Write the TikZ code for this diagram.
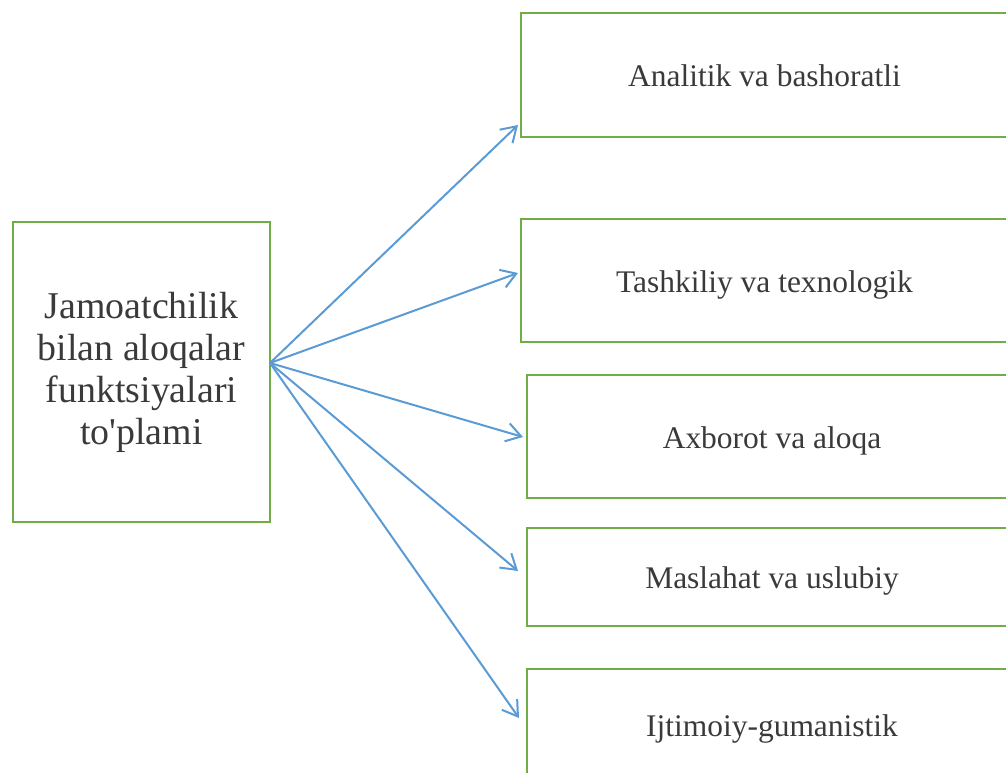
\documentclass[tikz,border=0pt]{standalone}
\usepackage{fontspec}
\setmainfont{Liberation Serif}[Ligatures=TeXOff]
\usetikzlibrary{arrows.meta}
\definecolor{boxgreen}{HTML}{70AD47}
\definecolor{arrowblue}{HTML}{5B9BD5}
\definecolor{txt}{HTML}{3A3A3A}
\tikzset{
  fbox/.style={draw=boxgreen, line width=2.2pt, rectangle, inner sep=0pt,
    text=txt, align=center, font=\fontsize{23.6}{27}\selectfont},
  rbox/.style={fbox, text height=17.5pt, text depth=0pt},
  link/.style={draw=arrowblue, line width=1.5pt,
    -{Straight Barb[length=11pt,width=14pt,line width=1.5pt]}}
}
\begin{document}
\begin{tikzpicture}[x=0.75pt,y=-0.75pt]
\useasboundingbox (0,0) rectangle (1006,773);
\clip (0,0) rectangle (1006,773);
\node[fbox, minimum width=192.75pt, minimum height=225pt,
  font=\fontsize{28.4}{31.5}\selectfont] (main) at (141.5,372)
  {Jamoatchilik\\bilan aloqalar\\funktsiyalari\\to'plami};
\node[rbox, minimum width=365.25pt, minimum height=93pt] (b1) at (764.5,75) {Analitik va bashoratli};
\node[rbox, minimum width=365.25pt, minimum height=92.25pt] (b2) at (764.5,280.5) {Tashkiliy va texnologik};
\node[rbox, minimum width=367.5pt, minimum height=92.25pt] (b3) at (772,436.5) {Axborot va aloqa};
\node[rbox, minimum width=367.5pt, minimum height=73.5pt] (b4) at (772,577) {Maslahat va uslubiy};
\node[rbox, minimum width=367.5pt, minimum height=84pt] (b5) at (772,725) {Ijtimoiy-gumanistik};
\coordinate (src) at (270,363);
\coordinate (t1) at (518,125);
\coordinate (t2) at (518,273);
\coordinate (t3) at (523,437);
\coordinate (t4) at (518,571);
\coordinate (t5) at (519,718);
\draw[link] (src) -- (t1);
\draw[link] (src) -- (t2);
\draw[link] (src) -- (t3);
\draw[link] (src) -- (t4);
\draw[link] (src) -- (t5);
\end{tikzpicture}
\end{document}
